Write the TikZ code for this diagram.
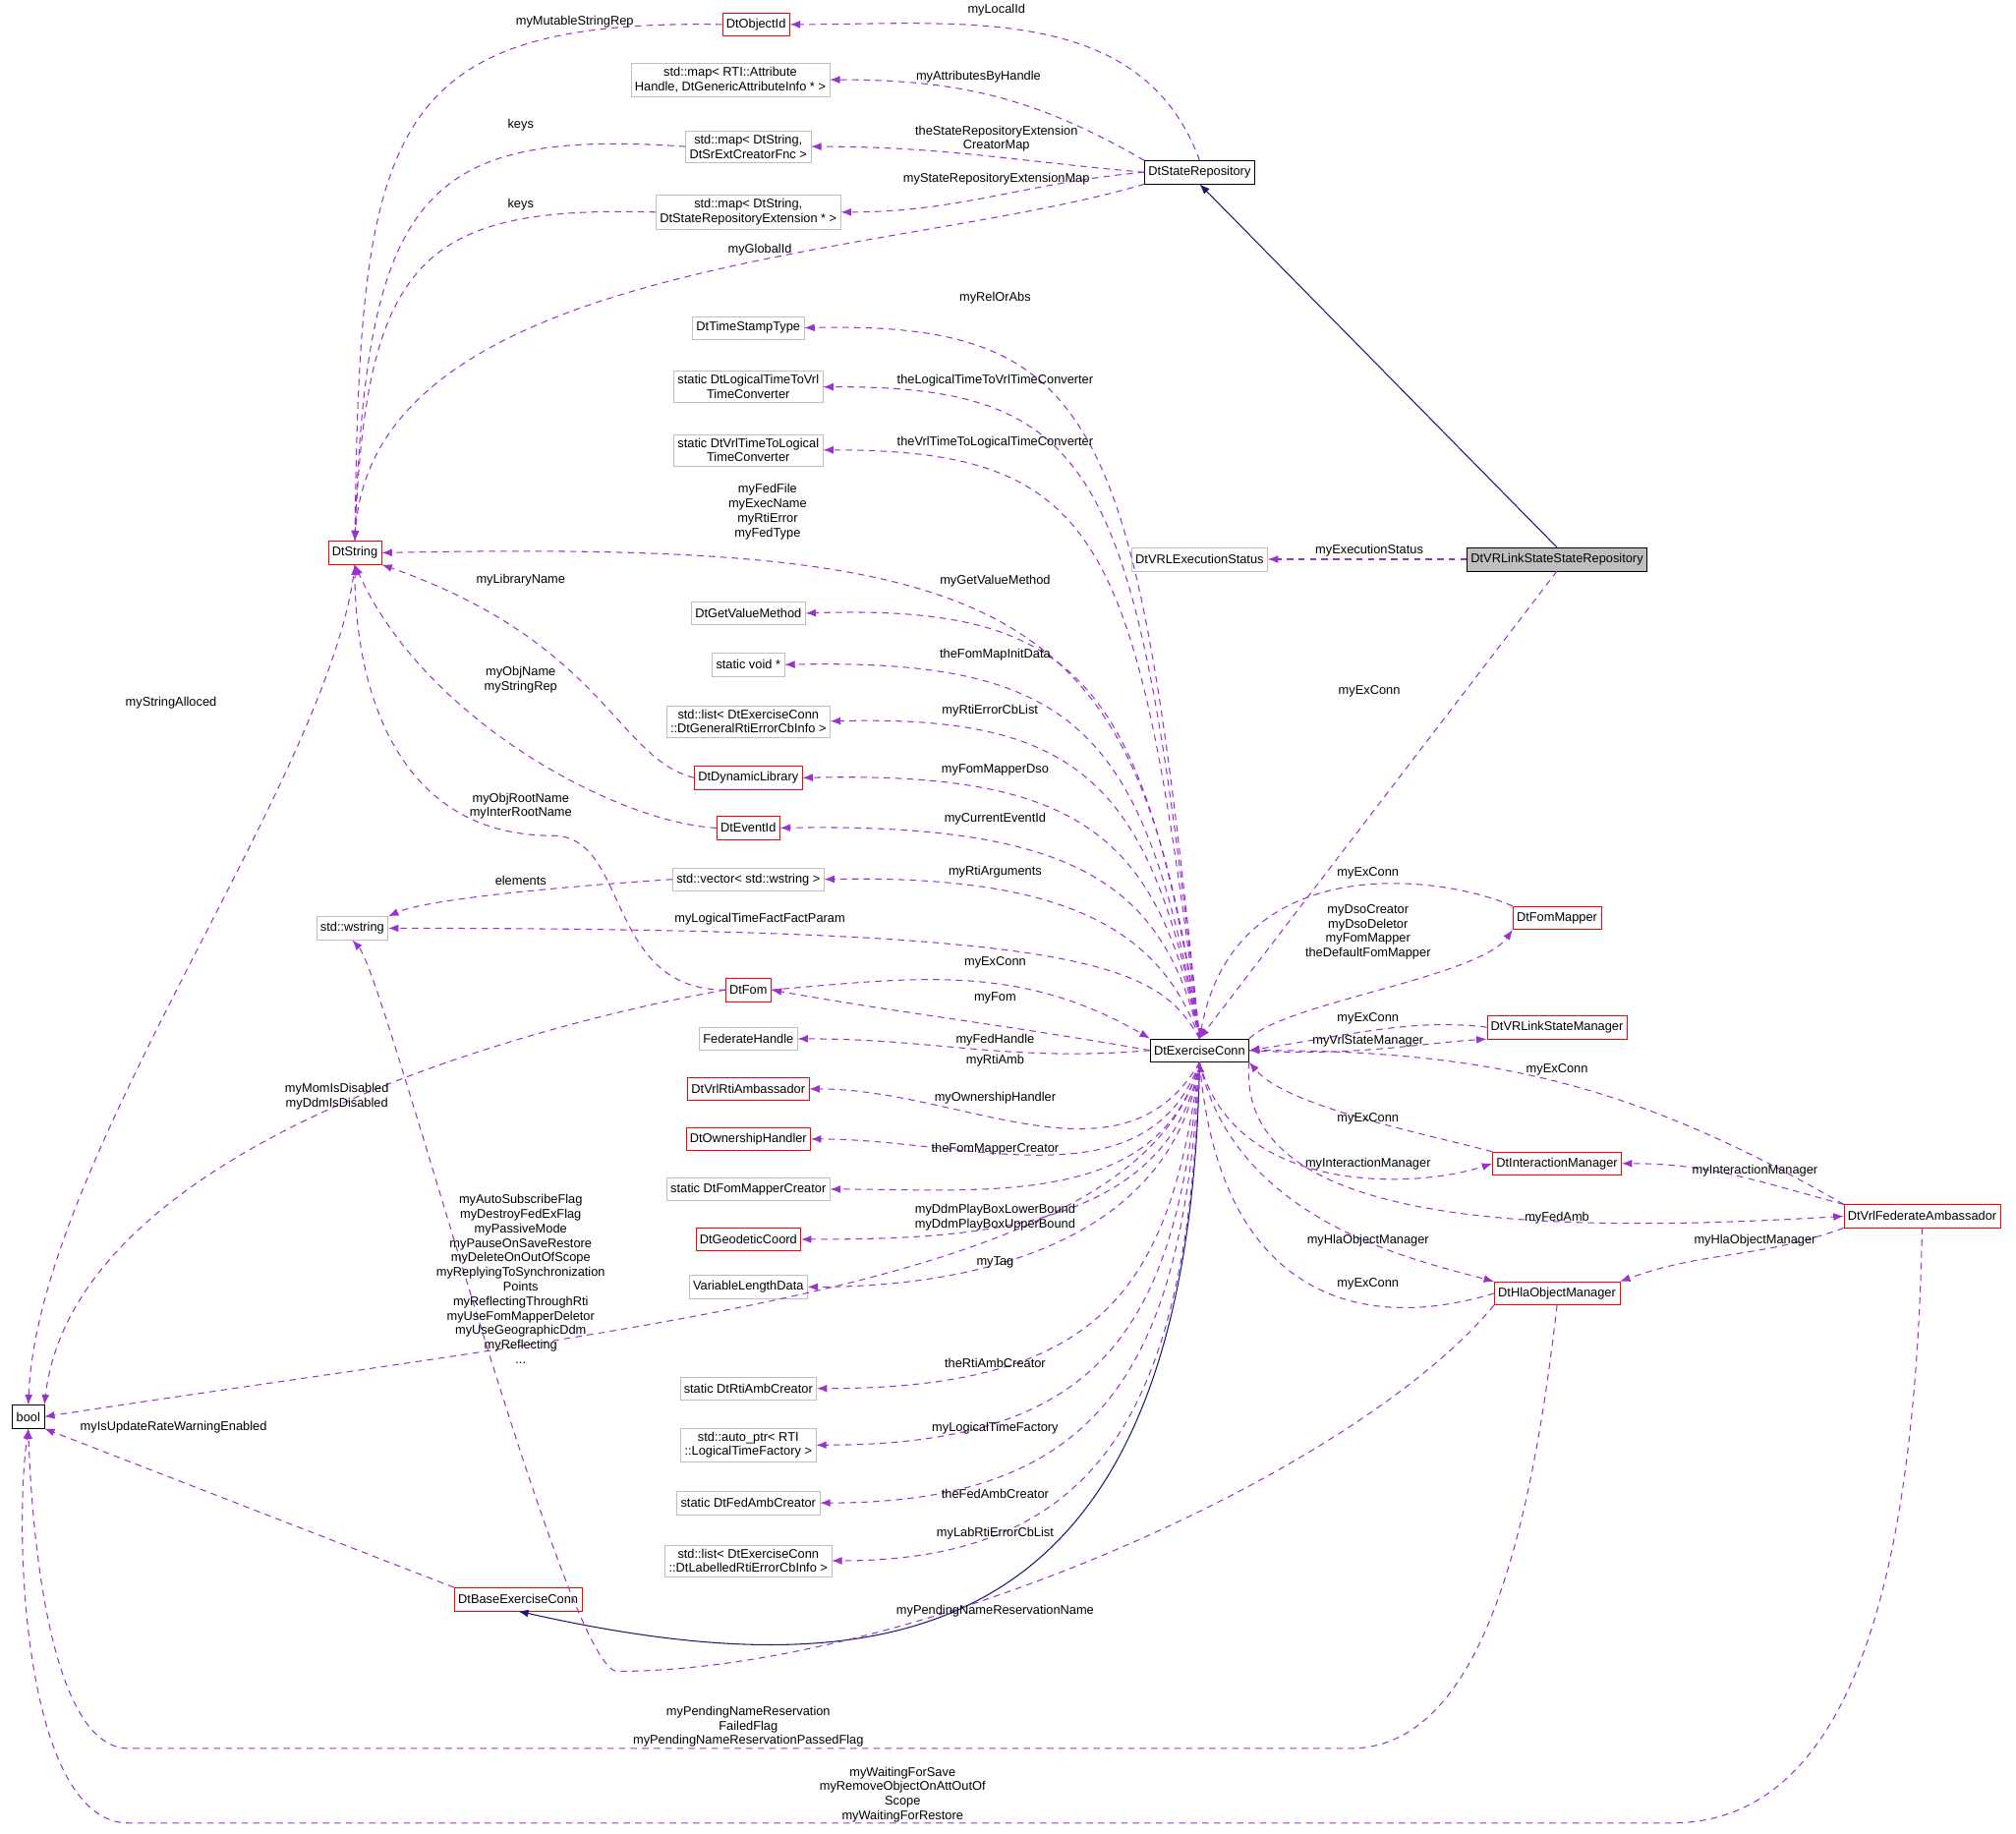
\documentclass[tikz,border=0pt]{standalone}
\usepackage{fontspec}
\setmainfont{Liberation Sans}
\usepackage{xcolor}
\definecolor{orchid}{HTML}{9A32CD}
\definecolor{midnight}{HTML}{191970}
\definecolor{boxgray}{HTML}{BFBFBF}
\usepackage{tikz}
\usetikzlibrary{arrows.meta, positioning}

\tikzset{
  cls/.style={draw=black, minimum height=18, inner sep=3, align=center, fill=white, font=\fontsize{9.8}{11.3}\selectfont},
  redcls/.style={cls, draw=red},
  graycls/.style={cls, draw=boxgray},
  mem/.style={draw=orchid, line width=0.8pt, dashed, dash pattern=on 5pt off 4pt, -{Latex[length=8,width=6]}},
  inh/.style={draw=midnight, line width=0.8pt, -{Latex[length=8,width=6]}},
  lbl/.style={inner sep=0, align=center, font=\fontsize{9.8}{11.3}\selectfont}
}

\begin{document}
\begin{tikzpicture}[x=1pt, y=1pt]
  \useasboundingbox (0,0) rectangle (1568,-1426);

  % --- classes at the top ---
  \node[redcls] (oid) at (588,-19) {DtObjectId};
  \node[graycls] (attmap) at (568,-62) {std::map< RTI::Attribute\\Handle, DtGenericAttributeInfo * >};
  \node[graycls] (crmap) at (582,-114) {std::map< DtString,\\DtSrExtCreatorFnc >};
  \node[cls] (dsr) at (933,-134) {DtStateRepository};
  \node[graycls] (extmap) at (582,-165) {std::map< DtString,\\DtStateRepositoryExtension * >};
  \node[graycls] (tst) at (582,-255) {DtTimeStampType};
  \node[graycls] (l2v) at (582,-301) {static DtLogicalTimeToVrl\\TimeConverter};
  \node[graycls] (v2l) at (582,-350) {static DtVrlTimeToLogical\\TimeConverter};
  \node[redcls] (str) at (276,-430) {DtString};
  \node[graycls] (exst) at (933,-435) {DtVRLExecutionStatus};
  \node[cls, fill=boxgray] (vsr) at (1211,-435) {DtVRLinkStateStateRepository};

  % --- members of the exercise connection ---
  \node[graycls] (gvm) at (582,-477) {DtGetValueMethod};
  \node[graycls] (svoid) at (582,-517) {static void *};
  \node[graycls] (glist) at (582,-561) {std::list< DtExerciseConn\\::DtGeneralRtiErrorCbInfo >};
  \node[redcls] (dynlib) at (582,-605) {DtDynamicLibrary};
  \node[redcls] (evid) at (582,-644) {DtEventId};
  \node[graycls] (wvec) at (582,-684) {std::vector< std::wstring >};
  \node[graycls] (wstr) at (274,-722) {std::wstring};
  \node[redcls] (fom) at (582,-770) {DtFom};
  \node[redcls] (fmap) at (1211,-714) {DtFomMapper};
  \node[cls] (ec) at (933,-817) {DtExerciseConn};
  \node[graycls] (fedh) at (582,-808) {FederateHandle};
  \node[redcls] (vsm) at (1211,-799) {DtVRLinkStateManager};
  \node[redcls] (rtiamb) at (582,-847) {DtVrlRtiAmbassador};
  \node[redcls] (own) at (582,-886) {DtOwnershipHandler};
  \node[graycls] (fmc) at (582,-925) {static DtFomMapperCreator};
  \node[redcls] (im) at (1211,-905) {DtInteractionManager};
  \node[redcls] (geo) at (582,-964) {DtGeodeticCoord};
  \node[redcls] (fa) at (1495,-946) {DtVrlFederateAmbassador};
  \node[graycls] (vld) at (582,-1001) {VariableLengthData};
  \node[redcls] (hla) at (1211,-1006) {DtHlaObjectManager};
  \node[cls] (bool) at (22,-1102) {bool};
  \node[graycls] (rac) at (582,-1080) {static DtRtiAmbCreator};
  \node[graycls] (ltf) at (582,-1124) {std::auto\_ptr< RTI\\::LogicalTimeFactory >};
  \node[graycls] (fac) at (582,-1169) {static DtFedAmbCreator};
  \node[graycls] (llist) at (582,-1214) {std::list< DtExerciseConn\\::DtLabelledRtiErrorCbInfo >};
  \node[redcls] (bec) at (403,-1244) {DtBaseExerciseConn};

  % inheritance
  \draw[inh] (vsr.north) -- (dsr.south);
  \draw[inh] (ec.south) .. controls (925,-1280) and (700,-1320) .. (bec.south);

  % state repository
  \draw[mem] (oid.west) .. controls (300,-15) and (280,-100) .. (str.north);
  \draw[mem] (dsr.north) to[out=110,in=0] (oid.east);
  \draw[mem] (dsr.north west) to[out=150,in=0] (attmap.east);
  \draw[mem] (dsr.west) to[out=175,in=0] (crmap.east);
  \draw[mem] (dsr.west) to[out=185,in=0] (extmap.east);
  \draw[mem] (dsr.south west) .. controls (700,-200) and (290,-200) .. (str.north);
  \draw[mem] (crmap.west) .. controls (330,-100) and (285,-150) .. (str.north);
  \draw[mem] (extmap.west) .. controls (330,-160) and (285,-200) .. (str.north);
  \draw[mem] (vsr.west) -- (exst.east);
  \draw[mem] (vsr.south) -- (ec.north);

  % exercise connection, upward fan
  \draw[mem] (ec.north) .. controls (885,-330) and (860,-250) .. (tst.east);
  \draw[mem] (ec.north) .. controls (885,-370) and (860,-300) .. (l2v.east);
  \draw[mem] (ec.north) .. controls (885,-420) and (860,-350) .. (v2l.east);
  \draw[mem] (ec.north) .. controls (885,-470) and (800,-420) .. (str.east);
  \draw[mem] (ec.north) .. controls (890,-530) and (840,-470) .. (gvm.east);
  \draw[mem] (ec.north) .. controls (890,-570) and (840,-512) .. (svoid.east);
  \draw[mem] (ec.north) .. controls (895,-610) and (840,-556) .. (glist.east);
  \draw[mem] (ec.north) .. controls (900,-650) and (840,-600) .. (dynlib.east);
  \draw[mem] (ec.north) .. controls (905,-690) and (840,-640) .. (evid.east);
  \draw[mem] (ec.north) .. controls (905,-730) and (840,-680) .. (wvec.east);
  \draw[mem] (ec.north) .. controls (900,-750) and (850,-722) .. (wstr.east);
  \draw[mem] (fom.east) to[out=5,in=150] (ec.north west);
  \draw[mem] (ec.west) to[out=170,in=-10] (fom.east);
  \draw[mem] (ec.west) to[out=185,in=0] (fedh.east);
  % exercise connection, downward fan
  \draw[mem] (ec.south) to[out=240,in=0] (rtiamb.east);
  \draw[mem] (ec.south) to[out=250,in=0] (own.east);
  \draw[mem] (ec.south) to[out=255,in=0] (fmc.east);
  \draw[mem] (ec.south) to[out=260,in=0] (geo.east);
  \draw[mem] (ec.south) to[out=262,in=0] (vld.east);
  \draw[mem] (ec.south) .. controls (890,-1000) and (500,-1030) .. (bool.east);
  \draw[mem] (ec.south) .. controls (910,-1000) and (860,-1080) .. (rac.east);
  \draw[mem] (ec.south) .. controls (915,-1030) and (860,-1124) .. (ltf.east);
  \draw[mem] (ec.south) .. controls (920,-1060) and (860,-1169) .. (fac.east);
  \draw[mem] (ec.south) .. controls (925,-1090) and (860,-1214) .. (llist.east);

  % back to the strings
  \draw[mem] (str.south) .. controls (260,-600) and (30,-900) .. (bool.north);
  \draw[mem] (dynlib.west) .. controls (480,-590) and (470,-500) .. (str.south east);
  \draw[mem] (evid.west) .. controls (480,-640) and (330,-560) .. (str.south);
  \draw[mem] (fom.west) .. controls (470,-770) and (490,-650) .. (430,-650) .. controls (300,-650) and (276,-520) .. (str.south);
  \draw[mem] (fom.west) .. controls (450,-790) and (60,-880) .. (bool.north east);
  \draw[mem] (wvec.west) .. controls (430,-690) and (330,-700) .. (wstr.north east);
  \draw[mem] (bec.north west) -- (bool.south east);

  % managers on the right
  \draw[mem] (fmap.north west) .. controls (1120,-680) and (960,-660) .. (ec.north);
  \draw[mem] (ec.north east) .. controls (1000,-780) and (1150,-760) .. (fmap.south west);
  \draw[mem] (vsm.west) .. controls (1100,-792) and (1050,-805) .. (ec.east);
  \draw[mem] (ec.east) .. controls (1050,-822) and (1100,-812) .. (vsm.south west);
  \draw[mem] (fa.north west) to[out=150,in=0] (ec.east);
  \draw[mem] (im.north west) .. controls (1100,-880) and (1000,-860) .. (ec.south east);
  \draw[mem] (ec.south) .. controls (960,-930) and (1100,-925) .. (im.west);
  \draw[mem] (fa.north west) to[out=165,in=0] (im.east);
  \draw[mem] (ec.south east) .. controls (960,-955) and (1200,-960) .. (fa.west);
  \draw[mem] (ec.south) .. controls (960,-950) and (1100,-980) .. (hla.north west);
  \draw[mem] (hla.west) .. controls (1050,-1040) and (950,-1000) .. (ec.south);
  \draw[mem] (fa.south west) to[out=200,in=20] (hla.north east);
  \draw[mem] (hla.south west) .. controls (1050,-1150) and (700,-1300) .. (480,-1300) .. controls (440,-1300) and (300,-760) .. (wstr.south);
  \draw[mem] (hla.south) .. controls (1190,-1200) and (1150,-1360) .. (1050,-1360) -- (100,-1360) .. controls (40,-1360) and (25,-1200) .. (bool.south);
  \draw[mem] (fa.south) .. controls (1490,-1200) and (1450,-1418) .. (1300,-1418) -- (100,-1418) .. controls (20,-1418) and (10,-1200) .. (bool.south);

  % labels
  \node[lbl] (l1) at (447,-17) {myMutableStringRep};
  \node[lbl] (l2) at (775,-8) {myLocalId};
  \node[lbl] (l3) at (761,-60) {myAttributesByHandle};
  \node[lbl] (l4) at (775,-108) {theStateRepositoryExtension\\CreatorMap};
  \node[lbl] (l5) at (775,-139) {myStateRepositoryExtensionMap};
  \node[lbl] (l6) at (405,-97) {keys};
  \node[lbl] (l7) at (405,-159) {keys};
  \node[lbl] (l8) at (591,-194) {myGlobalId};
  \node[lbl] (l9) at (774,-232) {myRelOrAbs};
  \node[lbl] (l10) at (774,-296) {theLogicalTimeToVrlTimeConverter};
  \node[lbl] (l11) at (774,-344) {theVrlTimeToLogicalTimeConverter};
  \node[lbl] (l12) at (597,-398) {myFedFile\\myExecName\\myRtiError\\myFedType};
  \node[lbl] (l13) at (1065,-428) {myExecutionStatus};
  \node[lbl] (l14) at (405,-451) {myLibraryName};
  \node[lbl] (l15) at (774,-452) {myGetValueMethod};
  \node[lbl] (l16) at (133,-547) {myStringAlloced};
  \node[lbl] (l17) at (774,-509) {theFomMapInitData};
  \node[lbl] (l18) at (405,-529) {myObjName\\myStringRep};
  \node[lbl] (l19) at (770,-553) {myRtiErrorCbList};
  \node[lbl] (l20) at (1065,-538) {myExConn};
  \node[lbl] (l21) at (774,-599) {myFomMapperDso};
  \node[lbl] (l22) at (405,-627) {myObjRootName\\myInterRootName};
  \node[lbl] (l23) at (774,-637) {myCurrentEventId};
  \node[lbl] (l24) at (774,-678) {myRtiArguments};
  \node[lbl] (l25) at (405,-685) {elements};
  \node[lbl] (l26) at (591,-715) {myLogicalTimeFactFactParam};
  \node[lbl] (l27) at (1064,-679) {myExConn};
  \node[lbl] (l28) at (1064,-725) {myDsoCreator\\myDsoDeletor\\myFomMapper\\theDefaultFomMapper};
  \node[lbl] (l29) at (774,-749) {myExConn};
  \node[lbl] (l30) at (774,-776) {myFom};
  \node[lbl] (l31) at (774,-809) {myFedHandle};
  \node[lbl] (l32) at (774,-825) {myRtiAmb};
  \node[lbl] (l33) at (1064,-792) {myExConn};
  \node[lbl] (l34) at (1064,-810) {myVrlStateManager};
  \node[lbl] (l35) at (1211,-832) {myExConn};
  \node[lbl] (l36) at (774,-854) {myOwnershipHandler};
  \node[lbl] (l37) at (262,-853) {myMomIsDisabled\\myDdmIsDisabled};
  \node[lbl] (l38) at (1064,-870) {myExConn};
  \node[lbl] (l39) at (774,-894) {theFomMapperCreator};
  \node[lbl] (l40) at (1064,-905) {myInteractionManager};
  \node[lbl] (l41) at (1365,-911) {myInteractionManager};
  \node[lbl] (l42) at (774,-947) {myDdmPlayBoxLowerBound\\myDdmPlayBoxUpperBound};
  \node[lbl] (l43) at (1211,-947) {myFedAmb};
  \node[lbl] (l44) at (405,-995) {myAutoSubscribeFlag\\myDestroyFedExFlag\\myPassiveMode\\myPauseOnSaveRestore\\myDeleteOnOutOfScope\\myReplyingToSynchronization\\Points\\myReflectingThroughRti\\myUseFomMapperDeletor\\myUseGeographicDdm\\myReflecting\\...};
  \node[lbl] (l45) at (1064,-965) {myHlaObjectManager};
  \node[lbl] (l46) at (1365,-965) {myHlaObjectManager};
  \node[lbl] (l47) at (774,-982) {myTag};
  \node[lbl] (l48) at (1064,-999) {myExConn};
  \node[lbl] (l49) at (774,-1060) {theRtiAmbCreator};
  \node[lbl] (l50) at (774,-1111) {myLogicalTimeFactory};
  \node[lbl] (l51) at (135,-1110) {myIsUpdateRateWarningEnabled};
  \node[lbl] (l52) at (774,-1162) {theFedAmbCreator};
  \node[lbl] (l53) at (774,-1193) {myLabRtiErrorCbList};
  \node[lbl] (l54) at (774,-1253) {myPendingNameReservationName};
  \node[lbl] (l55) at (582,-1343) {myPendingNameReservation\\FailedFlag\\myPendingNameReservationPassedFlag};
  \node[lbl] (l56) at (702,-1396) {myWaitingForSave\\myRemoveObjectOnAttOutOf\\Scope\\myWaitingForRestore};
\end{tikzpicture}
\end{document}
